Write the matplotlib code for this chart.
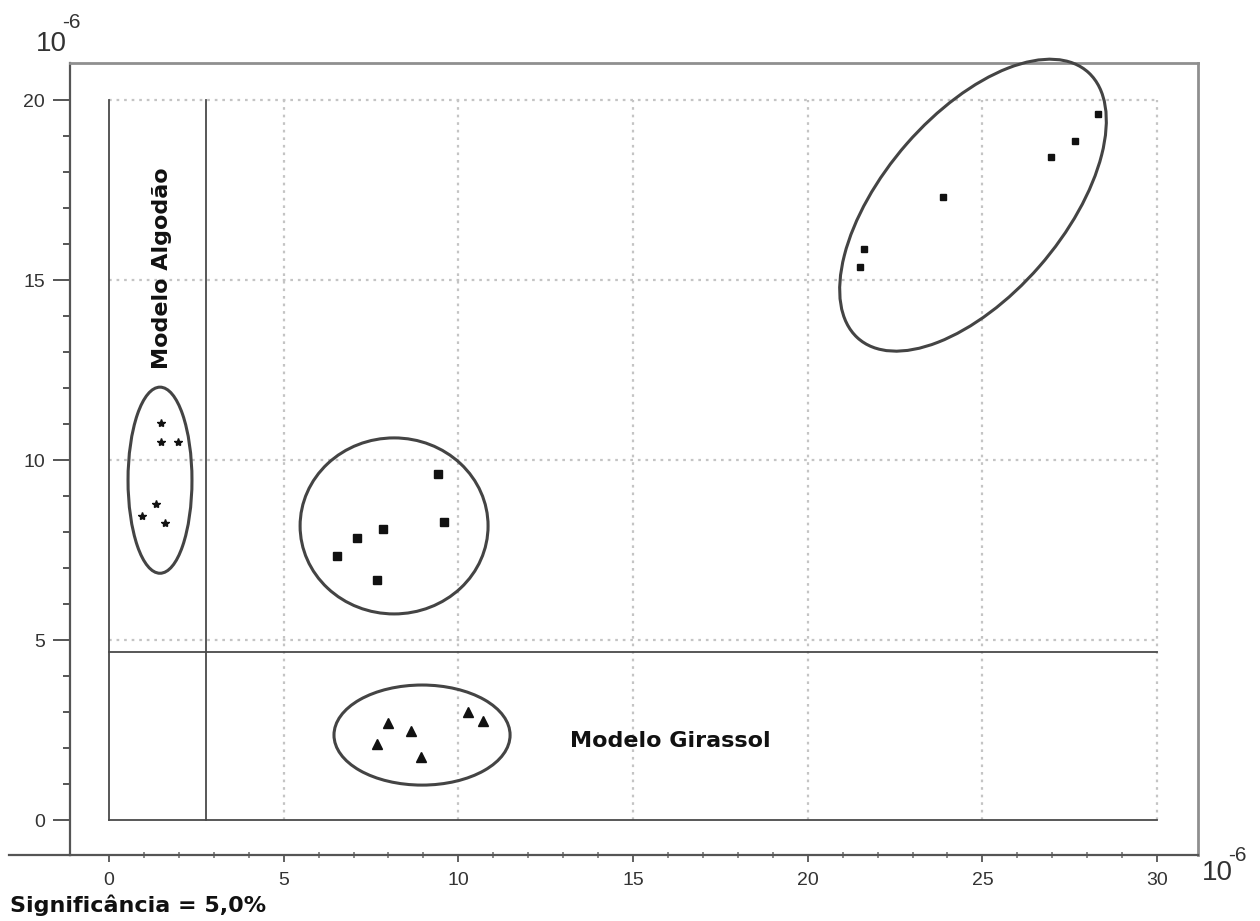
import matplotlib
matplotlib.use("Agg")
import matplotlib.pyplot as plt
from matplotlib.patches import Ellipse
from matplotlib.ticker import FixedLocator

# ---- data (units of 10^-6) ----
algodao_x = [1.49, 1.49, 1.98, 1.35, 0.94, 1.60]
algodao_y = [11.03, 10.50, 10.50, 8.78, 8.44, 8.25]

meio_x = [9.42, 9.59, 7.84, 7.10, 6.53, 7.67]
meio_y = [9.61, 8.28, 8.08, 7.83, 7.33, 6.67]

girassol_x = [10.28, 10.71, 7.99, 8.65, 7.67, 8.93]
girassol_y = [3.00, 2.75, 2.69, 2.47, 2.11, 1.75]

alto_x = [28.31, 27.66, 26.97, 23.88, 21.61, 21.50]
alto_y = [19.61, 18.86, 18.42, 17.31, 15.86, 15.36]

limite_x = 2.78
limite_y = 4.67

x_ticks = [0, 5, 10, 15, 20, 25, 30]
y_ticks = [0, 5, 10, 15, 20]
x_minor = list(range(0, 31))
y_minor = list(range(0, 21))

# ellipses: (cx, cy, width, height, angle)
elipses = [
    (1.46, 9.44, 1.83, 5.17, 0),
    (8.16, 8.17, 5.38, 4.89, 0),
    (8.96, 2.36, 5.04, 2.78, 0),
    (24.73, 17.08, 9.9, 5.1, 48),
]

fig = plt.figure(figsize=(12.6, 9.21), dpi=100)
ax = fig.add_axes([70/1260, 66/921, 1128/1260, 792/921])
ax.set_xlim(-1.116, 31.17)
ax.set_ylim(-0.972, 21.03)

tickfont = ['Liberation Sans Narrow', 'Liberation Sans', 'DejaVu Sans']

# grid (dotted)
gc = '#c4c4c4'
gls = (0, (1.2, 2.2))
for xv in x_ticks[1:]:
    ax.plot([xv, xv], [0, 20], color=gc, lw=1.6, ls=gls, zorder=1)
for yv in y_ticks[1:]:
    ax.plot([0, 30], [yv, yv], color=gc, lw=1.6, ls=gls, zorder=1)

# solid lines
lc = '#4a4a4a'
ax.plot([0, 0], [0, 20], color=lc, lw=1.3, zorder=2)
ax.plot([0, 30], [0, 0], color=lc, lw=1.3, zorder=2)
ax.plot([limite_x, limite_x], [0, 20], color=lc, lw=1.3, zorder=2)
ax.plot([0, 30], [limite_y, limite_y], color=lc, lw=1.3, zorder=2)

# points
ax.plot(algodao_x, algodao_y, ls='none', marker='*', ms=6, color='#111111', zorder=3)
ax.plot(meio_x, meio_y, ls='none', marker='s', ms=5.5, color='#111111', zorder=3)
ax.plot(girassol_x, girassol_y, ls='none', marker='^', ms=7, color='#111111', zorder=3)
ax.plot(alto_x, alto_y, ls='none', marker='s', ms=5, color='#111111', zorder=3)

for cx, cy, w, h, ang in elipses:
    ax.add_patch(Ellipse((cx, cy), w, h, angle=ang, fill=False,
                         edgecolor='#444444', lw=2.2, clip_on=False, zorder=4))

# texts
ax.text(1.52, 15.33, 'Modelo Algodão', rotation=90, ha='center', va='center',
        fontsize=16, fontweight='bold', family='DejaVu Sans', color='#111111')
ax.text(16.06, 2.19, 'Modelo Girassol', ha='center', va='center',
        fontsize=16, fontweight='bold', family='DejaVu Sans', color='#111111')

# spines
for s in ['top', 'right']:
    ax.spines[s].set_color('#8f8f8f')
    ax.spines[s].set_linewidth(2)
ax.spines['left'].set_color('#555555')
ax.spines['left'].set_linewidth(1.6)
ax.spines['bottom'].set_color('#555555')
ax.spines['bottom'].set_linewidth(1.6)

# extend bottom axis line to the left
ax.plot([-2.85, -1.116], [-0.972, -0.972], color='#555555', lw=1.6, clip_on=False)

ax.set_xticks(x_ticks)
ax.set_yticks(y_ticks)
ax.set_xticklabels([str(v) for v in x_ticks])
ax.set_yticklabels([str(v) for v in y_ticks])
ax.xaxis.set_minor_locator(FixedLocator(x_minor))
ax.yaxis.set_minor_locator(FixedLocator(y_minor))
ax.set_xlim(-1.116, 31.17)
ax.set_ylim(-0.972, 21.03)

ax.tick_params(axis='y', which='major', direction='out', length=12, width=1.4,
               color='#555555', pad=6, labelsize=14, labelcolor='#333333')
ax.tick_params(axis='y', which='minor', direction='out', length=5, width=1.4,
               color='#555555')
ax.tick_params(axis='x', which='major', direction='out', length=5, width=1.3,
               color='#555555', pad=7, labelsize=14, labelcolor='#333333')
ax.tick_params(axis='x', which='minor', direction='inout', length=4, width=1.2,
               color='#777777')
for lab in ax.get_xticklabels() + ax.get_yticklabels():
    lab.set_family(tickfont)

# 10^-6 labels
fig.text(51/1260, 1 - 44/921, '10', ha='center', va='center', fontsize=20,
         family=tickfont, color='#333333')
fig.text(71/1260, 1 - 22/921, '-6', ha='center', va='center', fontsize=15,
         family=tickfont, color='#333333')
fig.text(1217/1260, 1 - 873/921, '10', ha='center', va='center', fontsize=20,
         family=tickfont, color='#333333')
fig.text(1237/1260, 1 - 855/921, '-6', ha='center', va='center', fontsize=15,
         family=tickfont, color='#333333')

fig.text(10/1260, 1 - 905/921, 'Significância = 5,0%', ha='left', va='center',
         fontsize=16, fontweight='bold', family='DejaVu Sans', color='#111111')

fig.savefig('out.png', dpi=100)
